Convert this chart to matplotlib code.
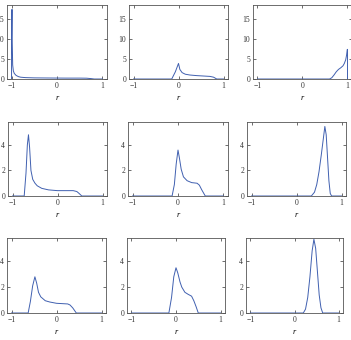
import matplotlib
matplotlib.use("Agg")
import matplotlib.pyplot as plt

# ── Data (r, density) ─────────────────────────────────────────
r11 = [-1.0, -1.0, -0.99, -0.985, -0.975, -0.96, -0.94, -0.9, -0.85, -0.8, -0.7, -0.5, -0.2, 0.2, 0.5, 0.65, 0.75, 0.82, 1.0]
d11 = [0.0, 10.0, 17.4, 9.0, 3.5, 2.0, 1.4, 0.9, 0.6, 0.45, 0.35, 0.28, 0.25, 0.22, 0.22, 0.2, 0.1, 0.0, 0.0]

r12 = [-1.0, -0.15, -0.07, 0.0, 0.03, 0.08, 0.15, 0.25, 0.4, 0.55, 0.7, 0.78, 0.85, 1.0]
d12 = [0.0, 0.0, 1.8, 3.9, 2.4, 1.6, 1.2, 1.0, 0.85, 0.75, 0.65, 0.45, 0.0, 0.0]

r13 = [-1.0, 0.6, 0.65, 0.7, 0.75, 0.8, 0.85, 0.9, 0.93, 0.96, 0.98, 0.995, 1.0, 1.0]
d13 = [0.0, 0.0, 0.3, 1.0, 1.8, 2.4, 2.8, 3.3, 3.9, 4.8, 6.0, 7.4, 7.4, 0.0]

r21 = [-1.0, -0.74, -0.7, -0.67, -0.645, -0.62, -0.59, -0.55, -0.5, -0.45, -0.35, -0.2, 0.0, 0.2, 0.35, 0.43, 0.48, 0.54, 1.0]
d21 = [0.0, 0.0, 1.8, 4.0, 4.8, 3.8, 2.0, 1.3, 1.0, 0.8, 0.6, 0.48, 0.42, 0.42, 0.42, 0.35, 0.2, 0.0, 0.0]

r22 = [-1.0, -0.13, -0.08, -0.04, 0.0, 0.03, 0.07, 0.12, 0.2, 0.3, 0.42, 0.47, 0.52, 0.6, 1.0]
d22 = [0.0, 0.0, 0.9, 2.5, 3.6, 3.0, 2.1, 1.5, 1.2, 1.05, 1.0, 0.85, 0.5, 0.0, 0.0]

r23 = [-1.0, 0.33, 0.4, 0.45, 0.5, 0.55, 0.6, 0.63, 0.66, 0.69, 0.72, 0.75, 0.78, 1.0]
d23 = [0.0, 0.0, 0.3, 0.9, 1.9, 3.2, 4.6, 5.45, 4.8, 3.0, 1.2, 0.2, 0.0, 0.0]

r31 = [-1.0, -0.63, -0.58, -0.53, -0.48, -0.44, -0.4, -0.35, -0.25, -0.15, 0.0, 0.15, 0.25, 0.3, 0.36, 0.44, 1.0]
d31 = [0.0, 0.0, 0.9, 2.1, 2.8, 2.3, 1.6, 1.25, 0.95, 0.85, 0.75, 0.72, 0.7, 0.62, 0.4, 0.0, 0.0]

r32 = [-1.0, -0.16, -0.1, -0.05, 0.0, 0.04, 0.09, 0.13, 0.2, 0.27, 0.35, 0.4, 0.45, 0.5, 1.0]
d32 = [0.0, 0.0, 1.2, 2.8, 3.5, 3.1, 2.4, 2.0, 1.6, 1.45, 1.3, 0.95, 0.5, 0.0, 0.0]

r33 = [-1.0, 0.2, 0.25, 0.3, 0.35, 0.4, 0.44, 0.48, 0.52, 0.56, 0.6, 0.64, 1.0]
d33 = [0.0, 0.0, 0.3, 1.2, 2.8, 4.8, 5.7, 5.0, 3.2, 1.4, 0.4, 0.0, 0.0]

curves = [[(r11, d11), (r12, d12), (r13, d13)],
          [(r21, d21), (r22, d22), (r23, d23)],
          [(r31, d31), (r32, d32), (r33, d33)]]

row_ylim = [18.5, 5.8, 5.8]
row_yticks = [[0, 5, 10, 15], [0, 2, 4], [0, 2, 4]]
xticks = [-1, 0, 1]
tick_labels = ["\u22121", "0", "1"]

# ── Layout (pixel boxes: left, top, right, bottom) ────────────
W, H = 351, 340
boxes = [[(7, 5, 107, 79), (129, 5, 228, 79), (253, 5, 352, 79)],
         [(8, 122, 107, 196), (128, 122, 228, 196), (247, 122, 346, 196)],
         [(7, 238, 106, 313), (127, 238, 225, 313), (246, 238, 343, 313)]]

plt.rcParams['font.family'] = ['Liberation Serif', 'DejaVu Serif']
fig = plt.figure(figsize=(W / 100, H / 100), dpi=100)

spine_col = '#555555'
line_col = '#4060b0'

for i in range(3):
    for j in range(3):
        l, t, rr, b = boxes[i][j]
        ax = fig.add_axes([l / W, 1 - b / H, (rr - l) / W, (b - t) / H])
        x, y = curves[i][j]
        ax.plot(x, y, color=line_col, lw=0.7)
        ax.set_xlim(-1.1, 1.1)
        ax.set_ylim(0, row_ylim[i])
        ax.set_xticks(xticks)
        ax.set_xticklabels(tick_labels)
        ax.set_yticks(row_yticks[i])
        ax.tick_params(direction='in', length=2, width=0.5, labelsize=5.5,
                       top=True, right=True, pad=2, colors='#333333')
        for s in ax.spines.values():
            s.set_color(spine_col)
            s.set_linewidth(0.6)
        ax.set_xlabel('r', fontsize=6, style='italic', labelpad=3)

fig.savefig('out.png', dpi=100)
